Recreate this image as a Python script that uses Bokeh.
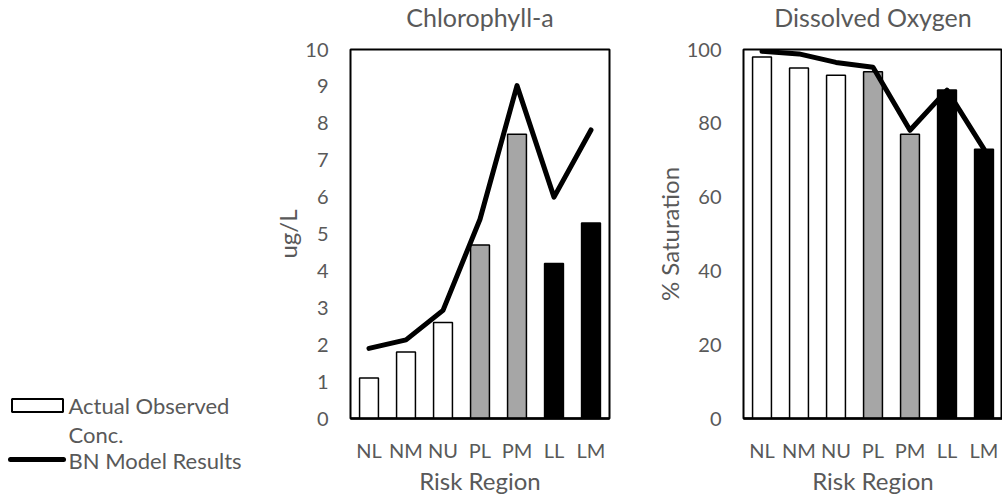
from bokeh.plotting import figure
from bokeh.layouts import row, column
from bokeh.models import Range1d, FactorRange, FixedTicker, ColumnDataSource
from bokeh.embed import file_html
from bokeh.resources import INLINE
from bokeh.core.properties import value

# Risk regions and measured / modelled values
regions = ["NL", "NM", "NU", "PL", "PM", "LL", "LM"]
bar_colors = ["white", "white", "white", "#A6A6A6", "#A6A6A6", "black", "black"]

chl_observed = [1.1, 1.8, 2.6, 4.7, 7.7, 4.2, 5.3]
chl_model = [1.9, 2.13, 2.93, 5.4, 9.02, 6.0, 7.82]

do_observed = [98, 95, 93, 94, 77, 89, 73]
do_model = [99.5, 98.8, 96.5, 95.2, 78.1, 89, 73]

FONT = "Lato"
GREY = "#595959"
HEIGHT = 501
HEAD = 35      # height of the heading strip above each chart
PAD_TOP = 14   # room above each plot frame for the top tick label


def blank(width, height, left=0, right=0, x_range=None, y_range=None):
    """An axis-less figure used as a drawing surface for headings and the key."""
    f = figure(width=width, height=height, x_range=x_range, y_range=y_range,
               output_backend="svg", toolbar_location=None,
               min_border=0, min_border_left=left, min_border_right=right,
               min_border_top=0, min_border_bottom=0)
    f.axis.visible = False
    f.xgrid.visible = False
    f.ygrid.visible = False
    f.outline_line_color = None
    return f


def heading(text, width, left, right):
    h = blank(width, HEAD, left, right, x_range=Range1d(0, 1), y_range=Range1d(HEAD, 0))
    h.text(x=[0.5], y=[16], text=[text], text_font=value(FONT), text_font_size="25px",
           text_color=GREY, text_align="center", text_baseline="middle")
    return h


def make_panel(title, ylabel, observed, model, ymax, ystep, width, left, right):
    p = figure(
        width=width, height=HEIGHT - HEAD,
        x_range=FactorRange(*regions, range_padding=0),
        y_range=Range1d(0, ymax),
        output_backend="svg", toolbar_location=None,
        min_border_left=left, min_border_right=right,
        min_border_top=PAD_TOP, min_border_bottom=83,
    )
    src = ColumnDataSource(dict(x=regions, obs=observed, mod=model, c=bar_colors))
    p.vbar(x="x", top="obs", width=0.51, fill_color="c", line_color="black",
           line_width=1.5, source=src)
    p.line(x="x", y="mod", line_color="black", line_width=5, line_join="round",
           line_cap="round", source=src)

    p.xgrid.visible = False
    p.ygrid.visible = False
    p.outline_line_color = "black"
    p.outline_line_width = 2

    xa = p.xaxis[0]
    xa.axis_label = "Risk Region"
    xa.axis_line_color = "black"
    xa.axis_line_width = 2.5
    xa.major_tick_line_color = None
    xa.minor_tick_line_color = None
    xa.major_tick_out = 0
    xa.major_tick_in = 0
    xa.major_label_standoff = 19
    xa.axis_label_standoff = 1
    xa.major_label_text_font = FONT
    xa.major_label_text_font_size = "20px"
    xa.major_label_text_color = GREY
    xa.axis_label_text_font = FONT
    xa.axis_label_text_font_size = "24px"
    xa.axis_label_text_font_style = "normal"
    xa.axis_label_text_color = GREY

    ya = p.yaxis[0]
    ya.axis_label = ylabel
    ya.ticker = FixedTicker(ticks=list(range(0, ymax + 1, ystep)))
    ya.axis_line_color = None
    ya.major_tick_line_color = None
    ya.minor_tick_line_color = None
    ya.major_tick_out = 0
    ya.major_tick_in = 0
    ya.major_label_standoff = 22
    ya.axis_label_standoff = 0
    ya.major_label_text_font = FONT
    ya.major_label_text_font_size = "20px"
    ya.major_label_text_color = GREY
    ya.axis_label_text_font = FONT
    ya.axis_label_text_font_size = "24px"
    ya.axis_label_text_font_style = "normal"
    ya.axis_label_text_color = GREY

    return column(heading(title, width, left, right), p, spacing=0)


chl = make_panel("Chlorophyll-a", "ug/L", chl_observed, chl_model, 10, 1,
                 width=370, left=79, right=31)
do = make_panel("Dissolved Oxygen", "% Saturation", do_observed, do_model, 100, 20,
                width=362, left=103, right=0)

# Key, drawn in pixel space
leg = blank(270, HEIGHT, x_range=Range1d(0, 270), y_range=Range1d(HEIGHT, 0))
leg.quad(left=[11.5], right=[62.5], top=[398.5], bottom=[411.5],
         fill_color="white", line_color="black", line_width=2)
leg.line(x=[10, 63], y=[459, 459], line_color="black", line_width=5, line_cap="round")
leg.text(x=[68, 68, 68], y=[405, 434, 460],
         text=["Actual Observed", "Conc.", "BN Model Results"],
         text_font=value(FONT), text_font_size="22px", text_color=GREY,
         text_baseline="middle", text_align="left")

layout = row(column(leg), chl, do, spacing=0)
open("out.html", "w").write(file_html(layout, INLINE))
